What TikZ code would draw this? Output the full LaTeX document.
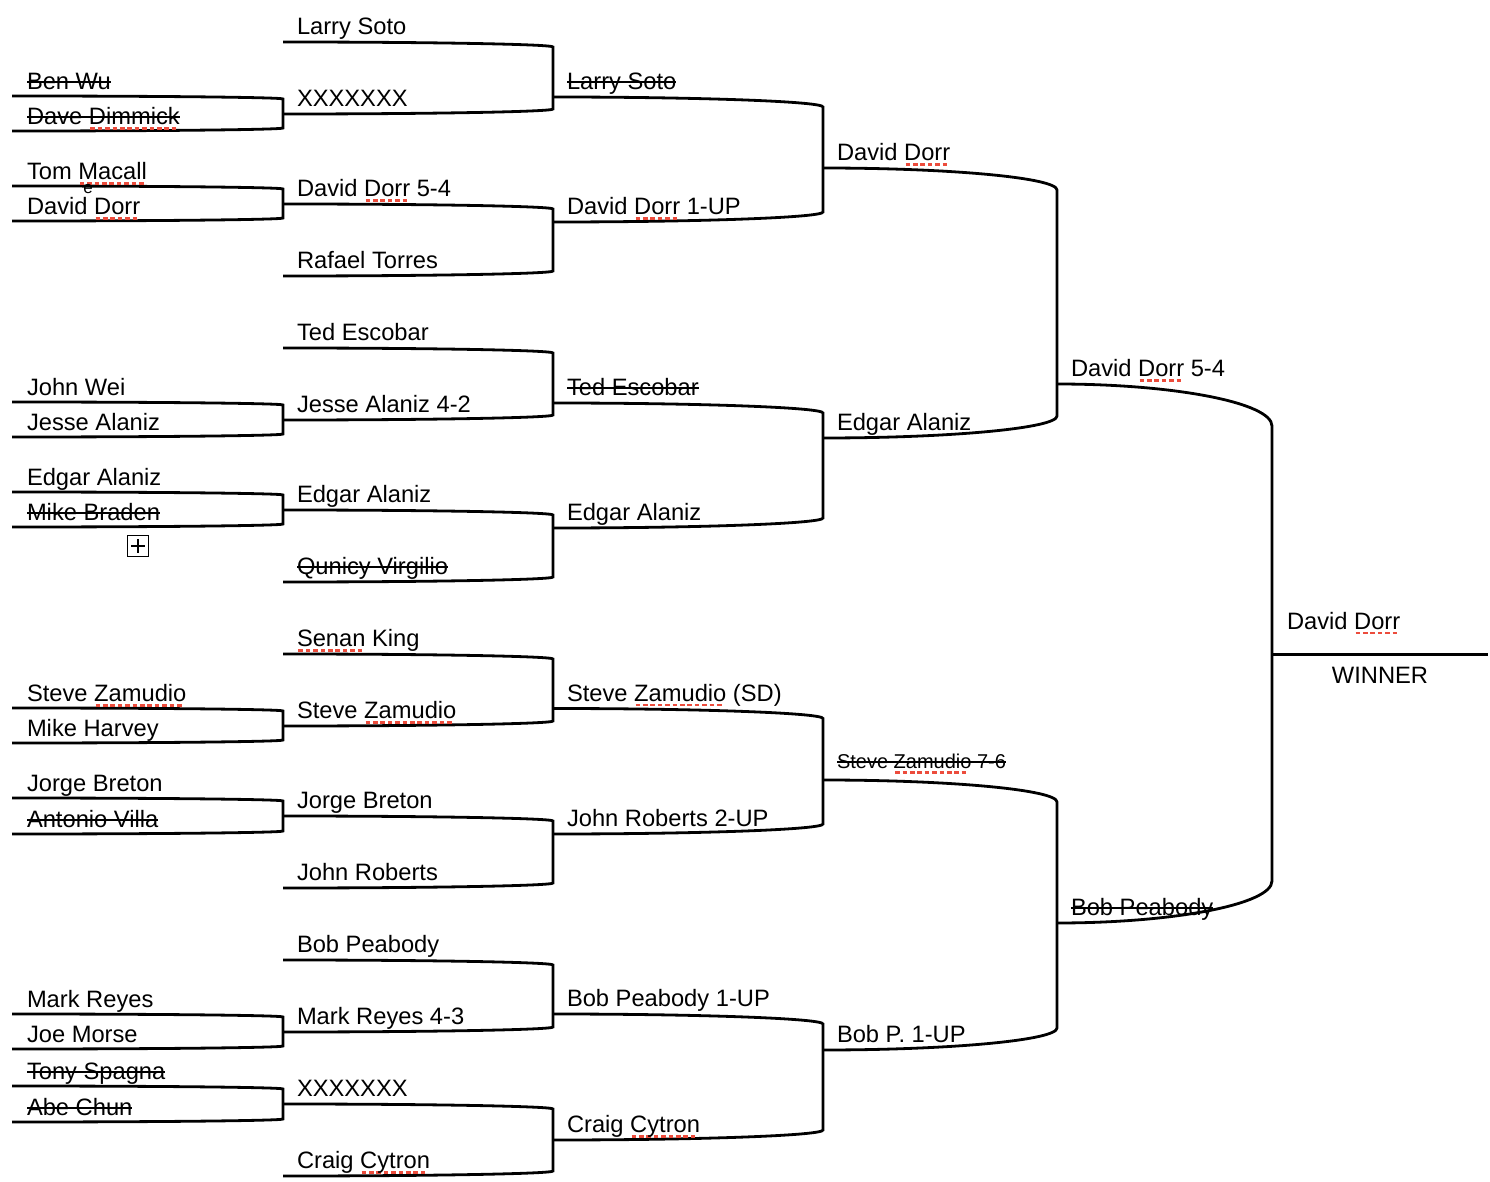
\documentclass[tikz,border=0pt]{standalone}
\usepackage{fontspec}
\setmainfont{Liberation Sans}
\definecolor{spellred}{RGB}{236,76,60}
\newcommand\spl[1]{\setbox0\hbox{#1}\rlap{\color{spellred}\leaders\hbox to 3.7pt{\hss\rule[-2.6pt]{2.3pt}{1.35pt}\hss}\hskip\wd0}\box0\relax}
% bracket: x1 x2 ytop ybot curve
\newcommand\bracketshape[5]{%
  \pgfmathsetmacro\bxa{#1+0.55*(#2-#1)}%
  \pgfmathsetmacro\bya{#3+#5}\pgfmathsetmacro\byb{#3+0.45*#5}%
  \pgfmathsetmacro\byc{#4-#5}\pgfmathsetmacro\byd{#4-0.45*#5}%
  \draw[bline] (#1,#3) .. controls (\bxa,#3) and (#2,\byb) .. (#2,\bya) -- (#2,\byc) .. controls (#2,\byd) and (\bxa,#4) .. (#1,#4);}
\newcommand\strikeit[2][3.8pt]{\draw[strikeline] ([yshift=#1]#2.base west) -- ([yshift=#1]#2.base east);}
\begin{document}
\begin{tikzpicture}[x=0.5pt,y=-0.5pt,
  bline/.style={line width=1.4pt},
  strikeline/.style={line width=0.75pt},
  lbl/.style={inner sep=0pt,outer sep=0pt,anchor=base west,font=\fontsize{11.85}{14}\selectfont},
  smalllbl/.style={inner sep=0pt,outer sep=0pt,anchor=base west,font=\fontsize{10}{12}\selectfont}]
\useasboundingbox (0,0) rectangle (1490,1182);
% column A
\foreach \t/\b in {96/131,186/221,402/437,492/527,708/743,798/834,1014/1049,1086/1122}{\bracketshape{12}{283}{\t}{\b}{3}}
% column B
\foreach \t/\b in {42/114,204/276,348/420,510/582,654/726,816/888,960/1032,1104/1176}{\bracketshape{283}{553}{\t}{\b}{5}}
% column C
\foreach \t/\b in {97/222,403/528,708.5/834,1014/1140}{\bracketshape{553}{823}{\t}{\b}{10}}
% column D
\foreach \t/\b in {168/438,780/1050}{\bracketshape{823}{1057}{\t}{\b}{22}}
% column E
\bracketshape{1057}{1272}{384}{923}{42}
\coordinate (wa) at (1272,654.6);
\coordinate (wb) at (1488,654.6);
\draw[bline] (wa) -- (wb);

% column A labels
\node[lbl] (a1) at (27,89.5) {Ben Wu};
\node[lbl] (a2) at (27,124.5) {Dave \spl{Dimmick}};
\node[lbl] (a3) at (27,179.5) {Tom \spl{Macall}};
\node[lbl] (a4) at (27,214.5) {David \spl{Dorr}};
\node[lbl] (a5) at (27,395.5) {John Wei};
\node[lbl] (a6) at (27,430.5) {Jesse Alaniz};
\node[lbl] (a7) at (27,485.5) {Edgar Alaniz};
\node[lbl] (a8) at (27,520.5) {Mike Braden};
\node[lbl] (a9) at (27,701.5) {Steve \spl{Zamudio}};
\node[lbl] (a10) at (27,736.5) {Mike Harvey};
\node[lbl] (a11) at (27,791.5) {Jorge Breton};
\node[lbl] (a12) at (27,827.5) {Antonio Villa};
\node[lbl] (a13) at (27,1007.5) {Mark Reyes};
\node[lbl] (a14) at (27,1042.5) {Joe Morse};
\node[lbl] (a15) at (27,1079.5) {Tony Spagna};
\node[lbl] (a16) at (27,1115.5) {Abe Chun};
\strikeit{a1}\strikeit{a2}\strikeit{a8}\strikeit{a12}\strikeit{a15}\strikeit{a16}
\node[inner sep=0pt,font=\fontsize{8.5}{9}\selectfont] (ee) at (88,189.5) {e};
% table handle
\draw[line width=0.75pt] (127.5,535.5) rectangle (148.5,556.5);
\draw[line width=0.75pt] (131,546) -- (145,546) (138,539) -- (138,553);

% column B labels
\node[lbl] (b1) at (297,34.5) {Larry Soto};
\node[lbl] (b2) at (297,106.5) {XXXXXXX};
\node[lbl] (b3) at (297,196.5) {David \spl{Dorr} 5-4};
\node[lbl] (b4) at (297,268.5) {Rafael Torres};
\node[lbl] (b5) at (297,340.5) {Ted Escobar};
\node[lbl] (b6) at (297,412.5) {Jesse Alaniz 4-2};
\node[lbl] (b7) at (297,502.5) {Edgar Alaniz};
\node[lbl] (b8) at (297,574.5) {Qunicy Virgilio};
\node[lbl] (b9) at (297,646.5) {\spl{Senan} King};
\node[lbl] (b10) at (297,718.5) {Steve \spl{Zamudio}};
\node[lbl] (b11) at (297,808.5) {Jorge Breton};
\node[lbl] (b12) at (297,880.5) {John Roberts};
\node[lbl] (b13) at (297,952.5) {Bob Peabody};
\node[lbl] (b14) at (297,1024.5) {Mark Reyes 4-3};
\node[lbl] (b15) at (297,1096.5) {XXXXXXX};
\node[lbl] (b16) at (297,1168.5) {Craig \spl{Cytron}};
\strikeit{b8}

% column C labels
\node[lbl] (c1) at (567,89.5) {Larry Soto};
\node[lbl] (c2) at (567,214.5) {David \spl{Dorr} 1-UP};
\node[lbl] (c3) at (567,395.5) {Ted Escobar};
\node[lbl] (c4) at (567,520.5) {Edgar Alaniz};
\node[lbl] (c5) at (567,701) {Steve \spl{Zamudio} (SD)};
\node[lbl] (c6) at (567,826.5) {John Roberts 2-UP};
\node[lbl] (c7) at (567,1006.5) {Bob Peabody 1-UP};
\node[lbl] (c8) at (567,1132.5) {Craig \spl{Cytron}};
\strikeit{c1}\strikeit{c3}

% column D labels
\node[lbl] (d1) at (837,160.5) {David \spl{Dorr}};
\node[lbl] (d2) at (837,430.5) {Edgar Alaniz};
\node[smalllbl] (d3) at (837,768.5) {Steve \spl{Zamudio} 7-6};
\node[lbl] (d4) at (837,1042.5) {Bob P. 1-UP};
\strikeit[3.2pt]{d3}

% column E labels
\node[lbl] (e1) at (1071,376.5) {David \spl{Dorr} 5-4};
\node[lbl] (e2) at (1071,915.5) {Bob Peabody};
\strikeit{e2}

% winner
\node[lbl] (w1) at (1287,629) {David \spl{Dorr}};
\node[inner sep=0pt,anchor=base,font=\fontsize{11.85}{14}\selectfont] (w2) at (1380,683) {WINNER};
\end{tikzpicture}
\end{document}
